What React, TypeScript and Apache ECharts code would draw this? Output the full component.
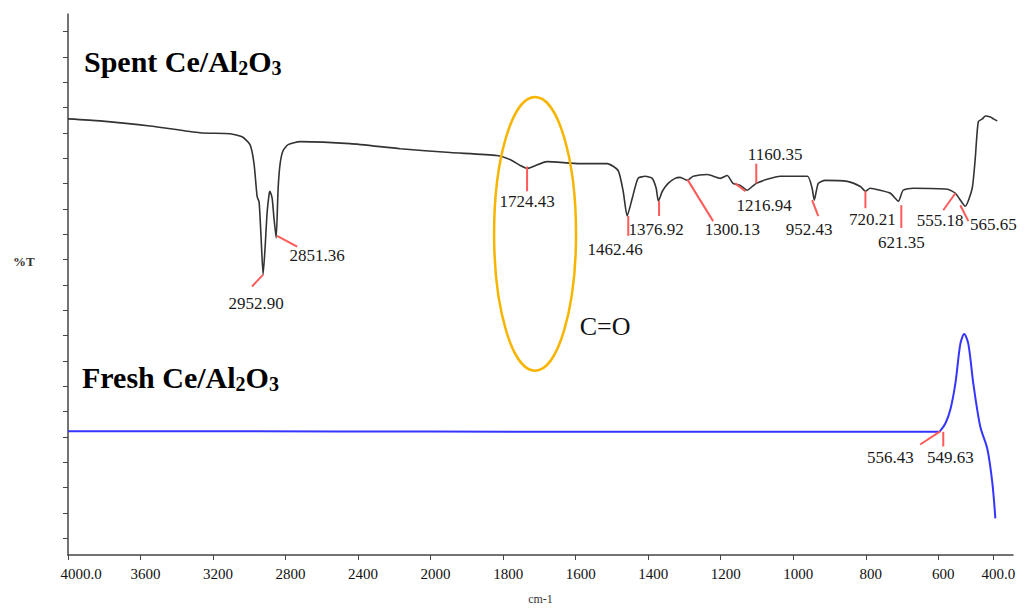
import React, { useEffect, useRef } from "react";
import * as echarts from "echarts";

// ---------- data ----------
const xTickValues = [4000, 3600, 3200, 2800, 2400, 2000, 1800, 1600, 1400, 1200, 1000, 800, 600, 400];
const xTickLabels = ["4000.0", "3600", "3200", "2800", "2400", "2000", "1800", "1600", "1400", "1200", "1000", "800", "600", "400.0"];

const spentWavenumber = [4000, 3823, 3548, 3272, 3106, 3040, 2996, 2974, 2957, 2946, 2935, 2924, 2913, 2902, 2891, 2886, 2874, 2864, 2852, 2841, 2830, 2814, 2786, 2720, 2444, 2168, 1946, 1817, 1781, 1753, 1734, 1717, 1679, 1588, 1513, 1483, 1469, 1458, 1444, 1428, 1408, 1389, 1378, 1372, 1361, 1345, 1326, 1312, 1292, 1276, 1237, 1201, 1182, 1166, 1146, 1127, 1113, 1102, 1072, 1036, 961, 948, 942, 931, 912, 851, 815, 801, 788, 760, 732, 710, 697, 669, 567, 538, 502, 477, 466, 455, 440, 429, 411, 400, 386];
const spentT = [16.56, 16.48, 16.28, 16.01, 15.97, 15.85, 15.54, 14.79, 13.5, 13.27, 11.86, 10.41, 11.47, 12.84, 13.58, 13.7, 13.42, 12.64, 11.86, 13.82, 14.79, 15.3, 15.54, 15.66, 15.58, 15.38, 15.23, 15.11, 14.95, 14.72, 14.6, 14.68, 14.87, 14.79, 14.79, 14.52, 13.7, 12.72, 13.42, 14.21, 14.29, 14.21, 13.82, 13.31, 13.7, 14.01, 14.21, 14.25, 14.13, 14.29, 14.36, 14.21, 14.32, 14.01, 13.93, 13.74, 13.89, 14.01, 14.17, 14.29, 14.29, 13.82, 13.35, 14.01, 14.13, 14.09, 13.89, 13.7, 13.82, 13.74, 13.62, 13.31, 13.74, 13.82, 13.78, 13.62, 13.11, 13.82, 14.99, 16.44, 16.56, 16.67, 16.63, 16.56, 16.48];

const freshWavenumber = [4000, 3000, 2000, 1000, 700, 600, 593, 574, 556, 538, 520, 506, 491, 473, 448, 422, 404, 393];
const freshT = [4.22, 4.22, 4.21, 4.2, 4.2, 4.2, 4.24, 4.54, 5.09, 6.11, 7.67, 8.06, 7.67, 6.11, 4.42, 3.52, 2.19, 0.78];

// peak annotations: leader line from [wn, T] to [wn, T], label centred at [wn, T]
const spentPeakLabels = ["2952.90", "2851.36", "1724.43", "1462.46", "1376.92", "1300.13", "1216.94", "1160.35", "952.43", "720.21", "621.35", "555.18", "565.65"];
const spentLeaderFrom = [[2924, 10.41], [2847, 11.94], [1734, 14.68], [1455, 12.72], [1370, 13.31], [1292, 14.17], [1160, 14.01], [1102, 14.01], [948, 13.35], [801, 13.7], [702, 13.15], [538, 13.62], [520, 13.15]];
const spentLeaderTo = [[2985, 9.94], [2736, 11.51], [1734, 13.7], [1455, 11.94], [1370, 12.72], [1221, 12.52], [1132, 13.7], [1102, 14.79], [931, 12.72], [801, 13.03], [702, 12.25], [582, 12.95], [491, 12.52]];
const spentLabelAt = [[2963, 9.28], [2626, 11.15], [1734, 13.31], [1491, 11.39], [1378, 12.17], [1168, 12.17], [1080, 13.15], [1050, 15.15], [956, 12.17], [782, 12.6], [702, 11.66], [593, 12.56], [400, 12.37]];

const freshPeakLabels = ["556.43", "549.63"];
const freshLeaderFrom = [[593, 4.22], [582, 4.2]];
const freshLeaderTo = [[650, 3.7], [582, 3.62]];
const freshLabelAt = [[732, 3.2], [556, 3.2]];

const carbonylBox = [[1825, 17.42], [1599, 6.61]];
const carbonylLabel = { text: "C=O", at: [1519, 8.34] };

// piecewise wavenumber axis (scale halves below 2000 cm-1)
const toP = (wn: number) =>
  wn >= 2000 ? (4000 - wn) / 400 : wn >= 600 ? 5 + (2000 - wn) / 200 : 12 + ((600 - wn) / 200) * 0.76;

const SERIF = "Liberation Serif";

export default function App() {
  const ref = useRef<HTMLDivElement>(null);

  useEffect(() => {
    if (!ref.current) return;
    const chart = echarts.init(ref.current, undefined, { renderer: "svg" });

    const noteData = (from: number[][], to: number[][], at: number[][]) =>
      from.map((f, i) => [toP(f[0]), f[1], toP(to[i][0]), to[i][1], toP(at[i][0]), at[i][1]]);

    const noteSeries = (labels: string[], data: number[][]) => ({
      type: "custom",
      clip: false,
      silent: true,
      encode: { x: [0, 2, 4], y: [1, 3, 5] },
      data,
      z: 5,
      renderItem: (params: any, api: any) => {
        const a = api.coord([api.value(0), api.value(1)]);
        const b = api.coord([api.value(2), api.value(3)]);
        const t = api.coord([api.value(4), api.value(5)]);
        return {
          type: "group",
          children: [
            {
              type: "line",
              shape: { x1: a[0], y1: a[1], x2: b[0], y2: b[1] },
              style: { stroke: "#ff5a5a", lineWidth: 2 },
            },
            {
              type: "text",
              x: t[0],
              y: t[1],
              style: {
                text: labels[params.dataIndex],
                fontFamily: SERIF,
                fontSize: 17,
                fill: "#1a1a1a",
                align: "center",
                verticalAlign: "middle",
              },
            },
          ],
        };
      },
    });

    const titleRich = {
      a: { fontFamily: SERIF, fontWeight: "bold", fontSize: 30, color: "#1a1a1a", lineHeight: 34, verticalAlign: "middle" },
      s: { fontFamily: SERIF, fontWeight: "bold", fontSize: 20, color: "#1a1a1a", lineHeight: 17, verticalAlign: "bottom" },
    };

    chart.setOption({
      animation: false,
      textStyle: { fontFamily: SERIF },
      grid: { left: 68, right: 14, top: 14, bottom: 50 },
      xAxis: {
        type: "value",
        min: 0,
        max: 13.03,
        axisLine: { show: true, onZero: false, lineStyle: { color: "#444", width: 1.5 } },
        axisTick: { show: true, length: 5, customValues: xTickValues.map(toP), lineStyle: { color: "#444" } },
        axisLabel: {
          show: true,
          customValues: xTickValues.map(toP),
          margin: 11,
          fontFamily: SERIF,
          fontSize: 15,
          color: "#111",
          formatter: (v: number) => {
            let best = 0;
            xTickValues.forEach((w, i) => {
              if (Math.abs(toP(w) - v) < Math.abs(toP(xTickValues[best]) - v)) best = i;
            });
            return best === 0 ? `{f|${xTickLabels[best]}}` : `{n|${xTickLabels[best]}}`;
          },
          rich: {
            f: { fontFamily: SERIF, fontSize: 15, color: "#111", padding: [0, 0, 0, 26] },
            n: { fontFamily: SERIF, fontSize: 15, color: "#111", padding: [0, 0, 0, 10] },
          },
        },
        splitLine: { show: false },
        name: "cm-1",
        nameLocation: "middle",
        nameGap: 38,
        nameTextStyle: { fontFamily: SERIF, fontSize: 12, color: "#333" },
      },
      yAxis: {
        type: "value",
        min: -0.665,
        max: 20.7,
        axisLine: { show: true, onZero: false, lineStyle: { color: "#444", width: 1.5 } },
        axisTick: { show: true, length: 5, customValues: Array.from({ length: 21 }, (_, i) => i), lineStyle: { color: "#444" } },
        axisLabel: { show: false },
        splitLine: { show: false },
      },
      graphic: [
        {
          type: "text",
          left: 84,
          top: 46,
          style: { text: "{a|Spent Ce/Al}{s|2}{a|O}{s|3}", rich: titleRich },
        },
        {
          type: "text",
          left: 82,
          top: 362,
          style: { text: "{a|Fresh Ce/Al}{s|2}{a|O}{s|3}", rich: titleRich },
        },
        {
          type: "text",
          left: 13,
          top: 255,
          style: { text: "%T", fontFamily: SERIF, fontSize: 13, fontWeight: "bold", fill: "#333" },
        },
      ],
      series: [
        {
          type: "line",
          data: spentWavenumber.map((w, i) => [toP(w), spentT[i]]),
          showSymbol: false,
          smooth: 0.2,
          lineStyle: { color: "#333", width: 1.6 },
          silent: true,
          z: 3,
        },
        {
          type: "line",
          data: freshWavenumber.map((w, i) => [toP(w), freshT[i]]),
          showSymbol: false,
          smooth: 0.3,
          lineStyle: { color: "#3535ff", width: 2 },
          silent: true,
          z: 3,
        },
        noteSeries(spentPeakLabels, noteData(spentLeaderFrom, spentLeaderTo, spentLabelAt)),
        noteSeries(freshPeakLabels, noteData(freshLeaderFrom, freshLeaderTo, freshLabelAt)),
        {
          type: "custom",
          clip: false,
          silent: true,
          encode: { x: [0, 2, 4], y: [1, 3, 5] },
          data: [[toP(carbonylBox[0][0]), carbonylBox[0][1], toP(carbonylBox[1][0]), carbonylBox[1][1], toP(carbonylLabel.at[0]), carbonylLabel.at[1]]],
          renderItem: (params: any, api: any) => {
            const a = api.coord([api.value(0), api.value(1)]);
            const b = api.coord([api.value(2), api.value(3)]);
            const t = api.coord([api.value(4), api.value(5)]);
            return {
              type: "group",
              children: [
                {
                  type: "ellipse",
                  shape: { cx: (a[0] + b[0]) / 2, cy: (a[1] + b[1]) / 2, rx: Math.abs(b[0] - a[0]) / 2, ry: Math.abs(b[1] - a[1]) / 2 },
                  style: { stroke: "#f7b500", lineWidth: 2.5, fill: "none" },
                },
                {
                  type: "text",
                  x: t[0],
                  y: t[1],
                  style: { text: carbonylLabel.text, fontFamily: SERIF, fontSize: 26, fill: "#111", align: "center", verticalAlign: "middle" },
                },
              ],
            };
          },
          z: 6,
        },
      ],
    });

    return () => chart.dispose();
  }, []);

  return <div ref={ref} style={{ position: "fixed", left: 0, top: 0, width: 1027, height: 610, background: "#fff" }} />;
}
